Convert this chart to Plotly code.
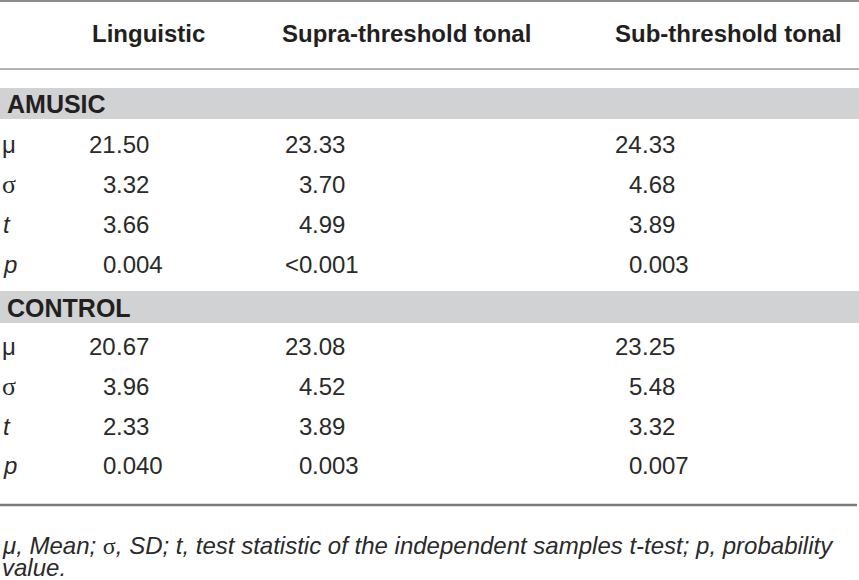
import plotly.graph_objects as go

# ---------------- data ----------------
columns = ["Linguistic", "Supra-threshold tonal", "Sub-threshold tonal"]
groups = ["AMUSIC", "CONTROL"]
stat_labels = ["μ", "σ", "t", "p"]

amusic_linguistic = ["21.50", "3.32", "3.66", "0.004"]
amusic_supra = ["23.33", "3.70", "4.99", "<0.001"]
amusic_sub = ["24.33", "4.68", "3.89", "0.003"]

control_linguistic = ["20.67", "3.96", "2.33", "0.040"]
control_supra = ["23.08", "4.52", "3.89", "0.003"]
control_sub = ["23.25", "5.48", "3.32", "0.007"]

footnote_line1 = ("<i>μ, Mean; </i><span style=\"font-family:'Liberation Serif', serif;font-style:normal\">σ</span>"
                  "<i>, SD; t, test statistic of the independent samples t-test; p, probability</i>")
footnote_line2 = "<i>value.</i>"

group_values = {
    "AMUSIC": [amusic_linguistic, amusic_supra, amusic_sub],
    "CONTROL": [control_linguistic, control_supra, control_sub],
}

# ---------------- layout constants ----------------
W, H = 859, 580
SANS = "Liberation Sans, Arial, Helvetica, sans-serif"
SERIF = "Liberation Serif, Times New Roman, serif"
TXT = "#231f20"
NUM = "#2a2a2a"
header_x = [92, 282, 615]
header_y = 33
decimal_x = [116, 312, 642]
band_y = [(88, 119), (291, 323)]
row_y = [[144, 184, 224, 264], [346, 386, 426, 465]]

fig = go.Figure()
fig.add_trace(go.Scatter(x=[0, W], y=[0, H], mode="markers",
                         marker=dict(opacity=0), hoverinfo="skip", showlegend=False))

shapes = []
annotations = []


def ann(text, x, y, xanchor="left", size=24, family=SANS, color=NUM):
    annotations.append(dict(text=text, x=x, y=y, xref="x", yref="y",
                            xanchor=xanchor, yanchor="middle", showarrow=False,
                            borderpad=0, borderwidth=0,
                            font=dict(family=family, size=size, color=color)))


# rules
shapes.append(dict(type="line", x0=0, x1=W, y0=1, y1=1, xref="x", yref="y",
                   line=dict(color="#8c8c8c", width=2)))
shapes.append(dict(type="line", x0=0, x1=W, y0=69, y1=69, xref="x", yref="y",
                   line=dict(color="#9a9a9a", width=1.5)))
shapes.append(dict(type="line", x0=0, x1=W - 2, y0=505, y1=505, xref="x", yref="y",
                   line=dict(color="#7a7a7a", width=2.5)))

# headers
for cx, name in zip(header_x, columns):
    ann("<b>" + name + "</b>", cx, header_y, size=24, color=TXT)

# groups
for gi, g in enumerate(groups):
    y0, y1 = band_y[gi]
    shapes.append(dict(type="rect", x0=0, x1=W, y0=y0, y1=y1, xref="x", yref="y",
                       fillcolor="#d1d2d4", line=dict(width=0), layer="below"))
    ann("<b>" + g + "</b>", 7, (y0 + y1) / 2 + 0.5, size=25, color=TXT)
    for ri, lab in enumerate(stat_labels):
        yy = row_y[gi][ri]
        if lab == "σ":
            ann(lab, 2, yy, size=26, family=SERIF)
        elif lab in ("t", "p"):
            ann("<i>" + lab + "</i>", 3, yy, size=24)
        else:
            ann(lab, 2, yy, size=24)
        for ci in range(len(columns)):
            v = group_values[g][ci][ri]
            ip, fp = v.split(".")
            ann(ip, decimal_x[ci], yy, xanchor="right", size=24)
            ann("." + fp, decimal_x[ci], yy, xanchor="left", size=24)

# footnote
ann(footnote_line1, 2, 545, size=24)
ann(footnote_line2, 2, 567, size=24)

fig.update_layout(
    width=W, height=H,
    margin=dict(l=0, r=0, t=0, b=0),
    paper_bgcolor="white", plot_bgcolor="white",
    xaxis=dict(range=[0, W], visible=False, fixedrange=True),
    yaxis=dict(range=[H, 0], visible=False, fixedrange=True),
    shapes=shapes, annotations=annotations,
    showlegend=False,
)

fig.write_html("out.html", config={"displayModeBar": False},
               post_script="document.body.style.margin='0';document.body.style.overflow='hidden';")
